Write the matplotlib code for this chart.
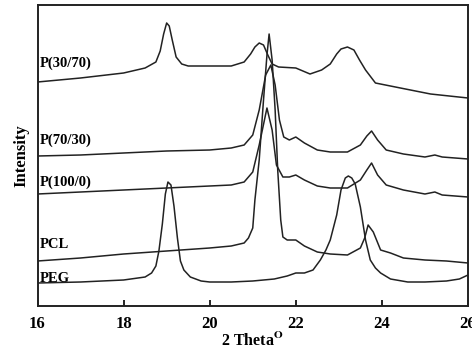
import matplotlib
matplotlib.use("Agg")
import matplotlib.pyplot as plt

# XRD patterns (2 theta in degrees, intensity in arbitrary units)
peg_theta = [16.0, 17.0, 18.0, 18.5, 18.65, 18.75, 18.82, 18.9, 18.97, 19.03, 19.1, 19.17,
             19.25, 19.32, 19.4, 19.55, 19.8, 20.0, 20.5, 21.0, 21.5, 21.8, 22.0, 22.2, 22.4,
             22.57, 22.7, 22.8, 22.95, 23.05, 23.15, 23.22, 23.3, 23.38, 23.5, 23.62, 23.73,
             23.85, 23.97, 24.2, 24.6, 25.0, 25.5, 25.8, 26.0]
peg_int = [23, 24, 26, 29, 33, 40, 55, 82, 112, 124, 121, 100, 68, 45, 36, 29, 25, 24, 24, 25,
           27, 30, 33, 33, 36, 46, 56, 66, 91, 116, 128, 130, 128, 122, 99, 66, 46, 38, 33,
           27, 24, 24, 25, 27, 31]

pcl_theta = [16.0, 17.0, 18.0, 19.0, 20.0, 20.5, 20.8, 20.9, 21.0, 21.05, 21.15, 21.25, 21.33,
             21.38, 21.45, 21.52, 21.58, 21.65, 21.7, 21.8, 22.0, 22.2, 22.5, 22.8, 23.2, 23.5,
             23.6, 23.68, 23.8, 23.97, 24.2, 24.5, 25.0, 25.5, 26.0]
pcl_int = [45, 48, 52, 55, 58, 60, 63, 68, 78, 106, 146, 206, 251, 272, 246, 196, 136, 86,
           69, 66, 66, 60, 54, 52, 51, 58, 68, 81, 74, 56, 53, 48, 46, 45, 43]

p100_theta = [16.0, 17.0, 18.0, 19.0, 20.0, 20.5, 20.8, 21.0, 21.15, 21.33, 21.45, 21.55,
              21.7, 21.85, 22.0, 22.2, 22.5, 22.8, 23.2, 23.5, 23.65, 23.76, 23.9, 24.1, 24.5,
              25.0, 25.23, 25.4, 26.0]
p100_int = [112, 114, 116, 118, 120, 121, 124, 134, 161, 198, 176, 141, 129, 129, 131, 126,
            120, 118, 118, 126, 136, 143, 131, 121, 116, 112, 114, 111, 109]

p7030_theta = [16.0, 17.0, 18.0, 19.0, 20.0, 20.5, 20.8, 21.0, 21.15, 21.3, 21.42, 21.52,
               21.62, 21.72, 21.85, 22.0, 22.2, 22.5, 22.8, 23.2, 23.5, 23.65, 23.76, 23.9,
               24.1, 24.5, 25.0, 25.23, 25.4, 26.0]
p7030_int = [150, 151, 153, 155, 156, 158, 161, 171, 196, 231, 241, 221, 186, 169, 166, 169,
             163, 156, 154, 154, 161, 170, 175, 166, 156, 152, 149, 151, 149, 147]

p3070_theta = [16.0, 17.0, 18.0, 18.5, 18.75, 18.85, 18.93, 19.0, 19.06, 19.13, 19.22, 19.35,
               19.5, 20.0, 20.5, 20.8, 20.95, 21.05, 21.15, 21.25, 21.35, 21.45, 21.6, 22.0,
               22.33, 22.6, 22.8, 22.95, 23.05, 23.2, 23.35, 23.48, 23.62, 23.85, 24.43,
               25.13, 26.0]
p3070_int = [224, 228, 233, 238, 244, 255, 272, 283, 280, 266, 249, 242, 240, 240, 240, 244,
             252, 259, 263, 261, 251, 242, 239, 238, 232, 236, 242, 252, 257, 259, 256, 246,
             236, 223, 218, 212, 208]

curve_labels = ['P(30/70)', 'P(70/30)', 'P(100/0)', 'PCL', 'PEG']
label_y = [243, 166, 124, 62, 28]
x_ticks = [16, 18, 20, 22, 24, 26]

plt.rcParams['font.family'] = ['Liberation Serif', 'DejaVu Serif']
plt.rcParams['font.weight'] = 'bold'
plt.rcParams['mathtext.fontset'] = 'stix'

fig = plt.figure(figsize=(4.72, 3.53), dpi=100)
ax = fig.add_axes([37.5 / 472, 1 - 306 / 353, (468 - 37.5) / 472, (306 - 5) / 353])

for th, inten in [(p3070_theta, p3070_int), (p7030_theta, p7030_int),
                  (p100_theta, p100_int), (pcl_theta, pcl_int), (peg_theta, peg_int)]:
    ax.plot(th, inten, color='#222222', lw=1.1)

for lab, yy in zip(curve_labels, label_y):
    ax.text(16.05, yy, lab, fontsize=10.5, fontweight='bold', ha='left', va='center')

ax.set_xlim(16, 26)
ax.set_ylim(0, 301)
ax.set_xticks(x_ticks)
ax.set_xticklabels([str(t) for t in x_ticks], fontsize=12, fontweight='bold')
ax.set_yticks([])
ax.tick_params(axis='x', direction='in', length=4, width=1.2, pad=7)
for sp in ax.spines.values():
    sp.set_linewidth(1.4)
    sp.set_color('#222222')

ax.set_xlabel(r'2 Theta$^{\mathbf{O}}$', fontsize=11.5, fontweight='bold', labelpad=0)
ax.set_ylabel('Intensity', fontsize=12, fontweight='bold', labelpad=6)

fig.savefig('out.png', dpi=100)
